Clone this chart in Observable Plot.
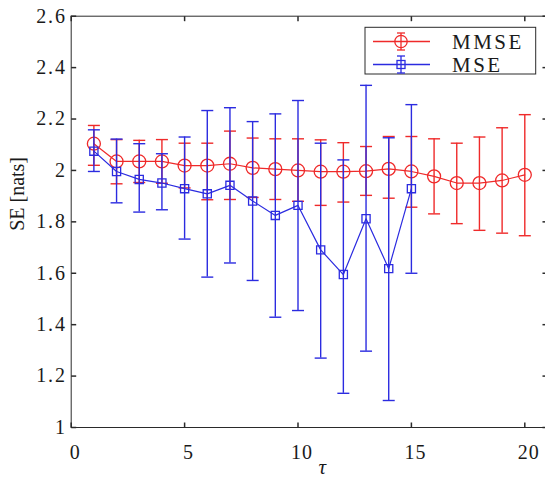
<!DOCTYPE html>
<html><head><meta charset="utf-8">
<script src="https://cdn.jsdelivr.net/npm/d3@7"></script>
<script src="https://cdn.jsdelivr.net/npm/@observablehq/plot@0.6"></script>
<style>
html,body{margin:0;padding:0;background:#fff;}
#chart{position:relative;width:545px;height:485px;}
#chart g[aria-label="y-axis tick label"] text{letter-spacing:1.8px;}
#chart g[aria-label="x-axis tick label"] text{letter-spacing:1px;}
</style></head><body><div id="chart"></div>
<script>
// ---- data ----
const tau = [1,2,3,4,5,6,7,8,9,10,11,12,13,14,15,16,17,18,19,20];
const mmse   = [2.104,2.035,2.035,2.035,2.019,2.019,2.026,2.010,2.005,2.000,1.995,1.995,1.997,2.006,1.996,1.977,1.951,1.951,1.961,1.983];
const mmseHi = [2.175,2.120,2.117,2.120,2.106,2.106,2.153,2.126,2.123,2.123,2.119,2.108,2.093,2.132,2.132,2.123,2.106,2.130,2.166,2.217];
const mmseLo = [2.020,1.948,1.953,1.950,1.932,1.886,1.887,1.895,1.887,1.880,1.864,1.877,1.903,1.892,1.857,1.831,1.793,1.767,1.756,1.746];
const mse    = [2.075,1.996,1.965,1.951,1.929,1.909,1.942,1.881,1.825,1.864,1.691,1.595,1.812,1.618,1.929];
const mseHi  = [2.158,2.122,2.104,2.065,2.130,2.233,2.244,2.190,2.220,2.272,2.106,2.041,2.331,2.127,2.256];
const mseLo  = [1.996,1.874,1.838,1.847,1.733,1.585,1.640,1.572,1.429,1.455,1.270,1.133,1.297,1.105,1.600];
const seriesNames = ["MMSE","MSE"];
const xDomain = [0, 21];
const yDomain = [1, 2.6];
const xTicks = [0,5,10,15,20];
const xTickLabels = ["0","5","10","15","20"];
const yTicks = [1,1.2,1.4,1.6,1.8,2,2.2,2.4,2.6];
const yTickLabels = ["1","1.2","1.4","1.6","1.8","2","2.2","2.4","2.6"];
const xLabel = "τ";
const yLabel = "SE [nats]";

// ---- styling ----
const RED = "#ef2a2a", BLUE = "#2b2be0", AX = "#2a2a2a";
const FONT = "Liberation Serif, Times New Roman, Times, serif";
const W = 545, H = 485, ML = 70.7, MT = 15.7, MB = 58;

const mmseData = tau.map((t,i)=>({t, v: mmse[i], lo: mmseLo[i], hi: mmseHi[i]}));
const mseData = mse.map((v,i)=>({t: tau[i], v, lo: mseLo[i], hi: mseHi[i]}));

function seg(x1,y1,x2,y2){ return {draw(ctx){ ctx.moveTo(x1,y1); ctx.lineTo(x2,y2); }}; }
const cap = seg(-6,0,6,0);
const tickL = seg(0,0,5,0), tickR = seg(0,0,-5,0), tickB = seg(0,0,0,-5), tickT = seg(0,0,0,5);

function series(data, color, symbol, r){
  return [
    Plot.ruleX(data, {x:"t", y1:"lo", y2:"hi", stroke: color, strokeWidth: 1.4}),
    Plot.dot(data, {x:"t", y:"hi", symbol: cap, stroke: color, fill:"none", strokeWidth: 1.4}),
    Plot.dot(data, {x:"t", y:"lo", symbol: cap, stroke: color, fill:"none", strokeWidth: 1.4}),
    Plot.line(data, {x:"t", y:"v", stroke: color, strokeWidth: 1.2}),
    Plot.dot(data, {x:"t", y:"v", symbol, r, stroke: color, fill:"none", strokeWidth: 1.3})
  ];
}

const plot = Plot.plot({
  width: W, height: H,
  marginLeft: ML, marginTop: MT, marginBottom: MB, marginRight: 0,
  style: {fontFamily: FONT, fontSize: "20px", color: "#1a1a1a", background: "#fff"},
  x: {domain: xDomain, range: [ML, ML + (524.3 - ML) * 21 / 20]},
  y: {domain: yDomain, range: [H - MB, MT]},
  marks: [
    ...series(mmseData, RED, "circle", 6.5),
    ...series(mseData, BLUE, "square", 4.6),
    // frame
    Plot.ruleX(xDomain, {stroke: AX, strokeWidth: 1}),
    Plot.ruleY(yDomain, {stroke: AX, strokeWidth: 1}),
    // inward ticks on all four sides
    Plot.dot(yTicks, {x: () => xDomain[0], y: d => d, symbol: tickL, stroke: AX, fill: "none"}),
    Plot.dot(yTicks, {x: () => xDomain[1], y: d => d, symbol: tickR, stroke: AX, fill: "none"}),
    Plot.dot(xTicks, {x: d => d, y: () => yDomain[0], symbol: tickB, stroke: AX, fill: "none"}),
    Plot.dot(xTicks, {x: d => d, y: () => yDomain[1], symbol: tickT, stroke: AX, fill: "none"}),
    Plot.axisY({ticks: yTicks, tickFormat: d => yTickLabels[yTicks.indexOf(d)], tickSize: 0, tickPadding: 4.5, label: null, fontSize: 20, fontFamily: FONT}),
    Plot.axisX({ticks: xTicks, tickFormat: d => xTickLabels[xTicks.indexOf(d)], tickSize: 0, tickPadding: 17, label: null, fontSize: 20, fontFamily: FONT, dx: 4}),
    Plot.text([xLabel], {frameAnchor: "bottom", dx: 14, dy: 46.6, fontStyle: "italic", fontSize: 21, fontFamily: FONT}),
    Plot.text([yLabel], {frameAnchor: "left", rotate: -90, dx: -54, dy: 9, fontSize: 20, fontFamily: FONT})
  ]
});
document.getElementById("chart").appendChild(plot);

// ---- legend (inside the axes, top right) ----
const svg = d3.select(plot);
const lg = svg.append("g").attr("class","legend");
lg.append("rect").attr("x",365).attr("y",27.3).attr("width",170.7).attr("height",46.7)
  .attr("fill","#fff").attr("stroke",AX).attr("stroke-width",1);
const entries = [{name: seriesNames[0], color: RED, sym: "circle", y: 41.5},
                 {name: seriesNames[1], color: BLUE, sym: "square", y: 64.5}];
for (const e of entries) {
  const g = lg.append("g").attr("stroke", e.color).attr("fill","none").attr("stroke-width",1.3);
  g.append("line").attr("x1",373).attr("x2",430).attr("y1",e.y).attr("y2",e.y);
  g.append("line").attr("x1",401).attr("x2",401).attr("y1",e.y-8.5).attr("y2",e.y+8.5);
  g.append("line").attr("x1",397).attr("x2",405).attr("y1",e.y-8.5).attr("y2",e.y-8.5);
  g.append("line").attr("x1",397).attr("x2",405).attr("y1",e.y+8.5).attr("y2",e.y+8.5);
  if (e.sym === "circle") g.append("circle").attr("cx",401).attr("cy",e.y).attr("r",6.2);
  else g.append("rect").attr("x",397).attr("y",e.y-4).attr("width",8).attr("height",8);
  lg.append("text").attr("x",452).attr("y",e.y).attr("dy","0.35em").attr("text-anchor","start")
    .attr("font-family",FONT).attr("font-size",21).attr("letter-spacing","2.5px")
    .attr("fill","#1a1a1a").text(e.name);
}
</script></body></html>
